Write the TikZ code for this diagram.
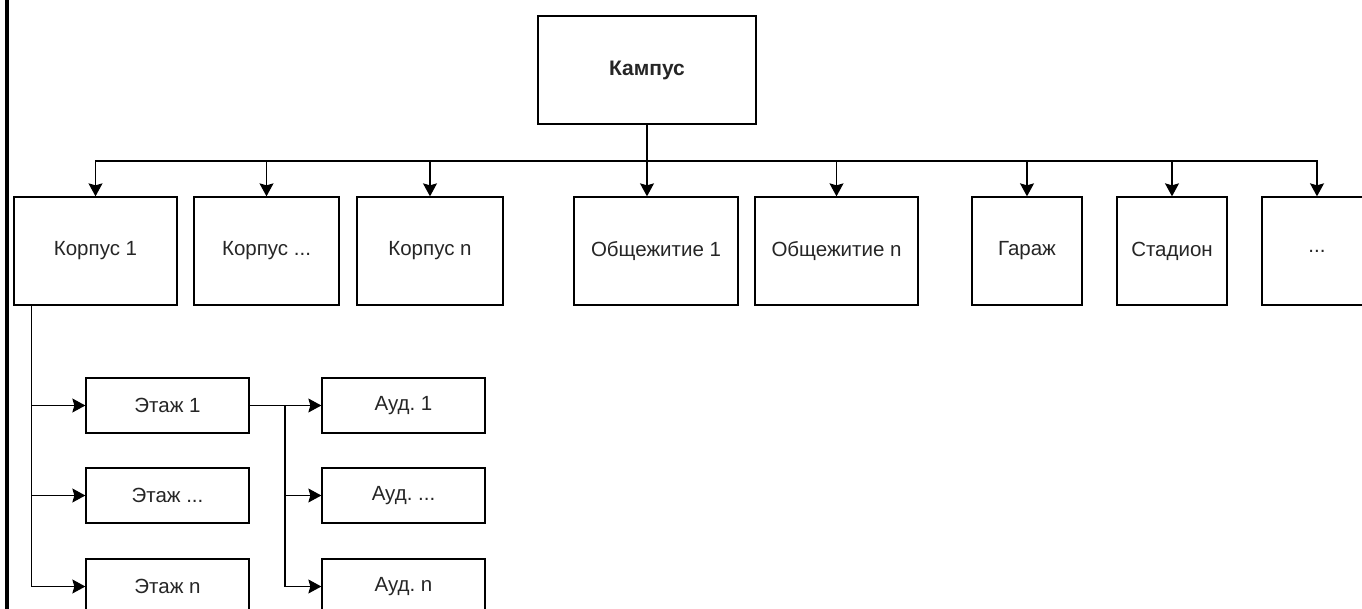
\documentclass[tikz,border=0pt]{standalone}
\usepackage{fontspec}
\setmainfont{Liberation Sans}
\usetikzlibrary{arrows.meta}
\frenchspacing
\begin{document}
\begin{tikzpicture}[x=1pt,y=-1pt,
  box/.style={draw=black,line width=1.3pt,fill=white,inner sep=0pt,
    font=\fontsize{20.5}{24}\selectfont,text=black!85},
  conn/.style={line width=1.3pt,draw=black},
  arr/.style={conn,-{Stealth[length=13pt,width=14pt,inset=2pt]}}]
\useasboundingbox (0,0) rectangle (1362,609);
\clip (0,0) rectangle (1362,609);
\fill[black] (5,0) rectangle (8.5,609);
% top
\node[box,minimum width=218pt,minimum height=108pt,font=\fontsize{21}{24}\selectfont\bfseries] (kampus) at (647,70) {Кампус};
\node[box,minimum width=163pt,minimum height=108pt] (k1) at (95.5,251) {Корпус 1};
\node[box,minimum width=145pt,minimum height=108pt] (k2) at (266.5,251) {Корпус ...};
\node[box,minimum width=146pt,minimum height=108pt] (k3) at (430,251) {Корпус n};
\node[box,minimum width=164pt,minimum height=108pt] (o1) at (656,251) {Общежитие 1};
\node[box,minimum width=163pt,minimum height=108pt] (o2) at (836.5,251) {Общежитие n};
\node[box,minimum width=110pt,minimum height=108pt] (g) at (1027,251) {Гараж};
\node[box,minimum width=110pt,minimum height=108pt] (s) at (1172,251) {Стадион};
\node[box,minimum width=110pt,minimum height=108pt] (d) at (1317,251) {...};
% floors
\node[box,minimum width=163pt,minimum height=55pt] (e1) at (167.5,405.5) {Этаж 1};
\node[box,minimum width=163pt,minimum height=55pt] (e2) at (167.5,495.5) {Этаж ...};
\node[box,minimum width=163pt,minimum height=55pt] (e3) at (167.5,586.5) {Этаж n};
\node[box,minimum width=163pt,minimum height=55pt] (a1) at (403.5,405.5) {Ауд. 1};
\node[box,minimum width=163pt,minimum height=55pt] (a2) at (403.5,495.5) {Ауд. ...};
\node[box,minimum width=163pt,minimum height=55pt] (a3) at (403.5,586.5) {Ауд. n};
% connectors
\coordinate (bus) at (647,161);
\foreach \n in {k1,k2,k3,o2,g,s,d}{
  \draw[arr] (kampus.south) -- (bus) -| (\n.north);
}
\draw[arr] (kampus.south) -- (kampus.south |- o1.north);
\coordinate (lt) at ([xshift=18pt]k1.south west);
\foreach \n in {e1,e2,e3}{
  \draw[arr] (lt) |- (\n.west);
}
\coordinate (ab) at (285,405.5);
\draw[arr] (e1.east) -- (a1.west);
\draw[arr] (ab) |- (a2.west);
\draw[arr] (ab) |- (a3.west);
\end{tikzpicture}
\end{document}
